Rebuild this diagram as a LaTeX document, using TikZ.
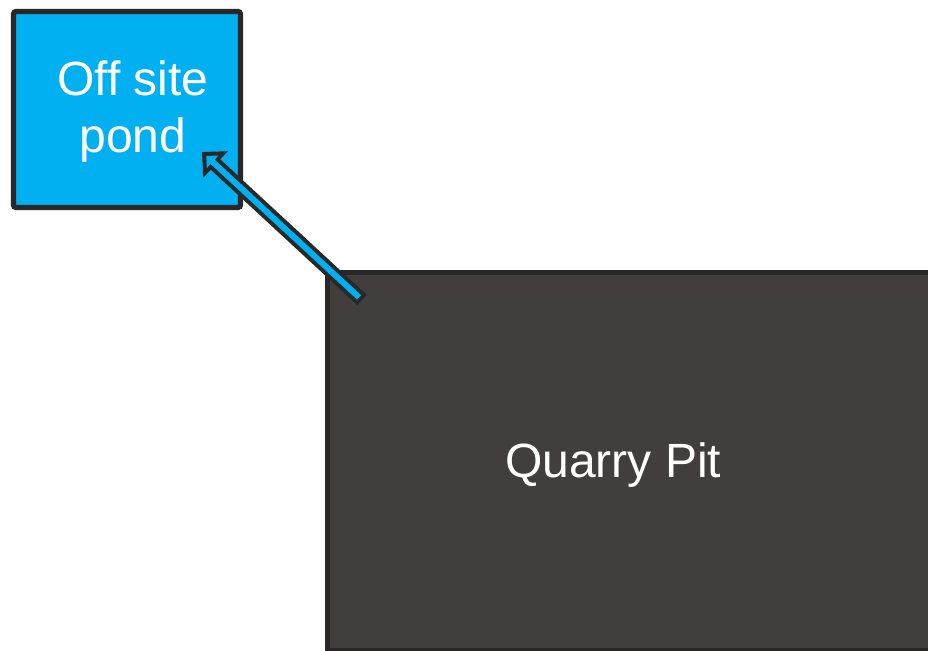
\documentclass[tikz,border=0pt]{standalone}
\usepackage{fontspec}
\setmainfont{Liberation Sans}
\usetikzlibrary{arrows.meta}
\definecolor{pondblue}{HTML}{00B0F0}
\definecolor{pitgrey}{HTML}{413E3D}
\definecolor{edgegrey}{HTML}{282828}
\begin{document}
\begin{tikzpicture}[x=0.03cm, y=-0.03cm,
    box/.style={draw=edgegrey, line width=4.3pt},
    boxtext/.style={text=white, align=center, font=\fontsize{41}{49}\selectfont}]
  \useasboundingbox (0,0) rectangle (928,651);
  \clip (0,0) rectangle (928,651);

  \node[box, fill=pitgrey, minimum width=18.525cm, minimum height=11.355cm,
        label={[boxtext, xshift=-0.69cm, yshift=-0.1cm]center:Quarry Pit}]
        (pit) at (636.25,461.75) {};
  \node[box, fill=pondblue, rounded corners=2pt, minimum width=6.81cm, minimum height=5.88cm,
        label={[boxtext, xshift=0.18cm, yshift=-0.06cm]center:Off site\\pond}]
        (pond) at (127,109.5) {};

  % outlined arrow: dark outer pass, blue inner pass
  \coordinate (from) at (362,300);
  \coordinate (to) at (202,152);
  \draw[edgegrey, line width=12pt, -{Triangle[length=15.7pt, width=29.9pt]}] (from) -- (to);
  \draw[pondblue, line width=5.1pt, shorten <=3.4pt, shorten >=5pt,
        -{Triangle[length=7.3pt, width=14pt]}] (from) -- (to);
\end{tikzpicture}
\end{document}
